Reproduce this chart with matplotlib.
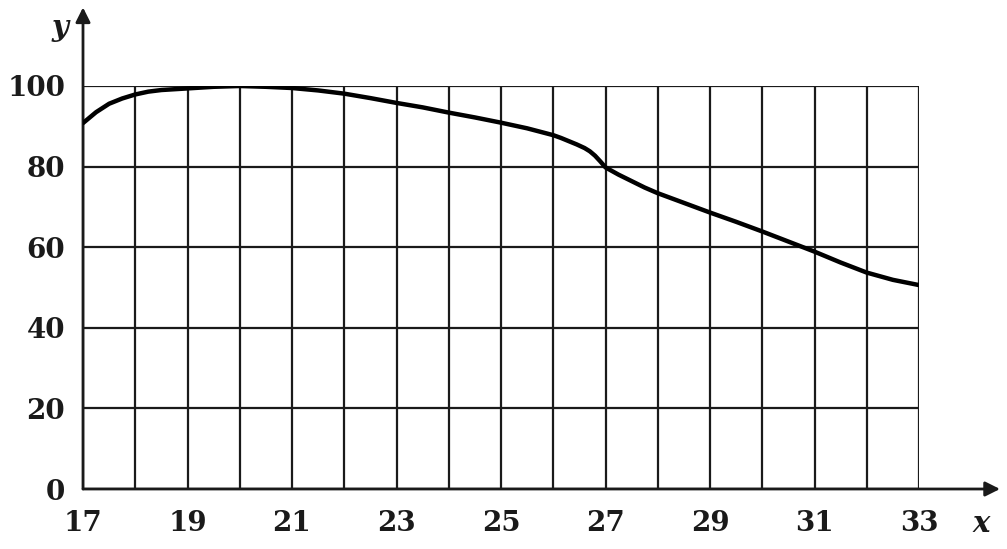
import matplotlib
matplotlib.use("Agg")
import matplotlib.pyplot as plt

# curve
x_vals = [17, 17.25, 17.5, 17.75, 18, 18.25, 18.5, 19, 19.5, 20, 20.5, 21, 21.5, 22, 22.5,
          23, 23.5, 24, 24.5, 25, 25.5, 26, 26.15, 26.3, 26.45, 26.6, 26.7, 26.8, 26.9,
          27, 27.25, 27.5, 27.75, 28, 28.5, 29, 29.5, 30, 30.5, 31, 31.5, 32, 32.5, 33]
y_vals = [90.8, 93.5, 95.6, 96.9, 97.9, 98.6, 99.0, 99.4, 99.8, 100, 99.8, 99.5, 98.9, 98.1, 97.0,
          95.8, 94.7, 93.4, 92.2, 90.9, 89.5, 87.8, 87.1, 86.3, 85.5, 84.6, 83.8, 82.7, 81.3,
          79.8, 78.0, 76.4, 74.8, 73.4, 71.0, 68.6, 66.3, 63.9, 61.4, 58.9, 56.2, 53.7, 51.9, 50.6]

x_ticks = list(range(17, 34))
x_labels = [str(v) if v % 2 == 1 else "" for v in x_ticks]
y_ticks = [0, 20, 40, 60, 80, 100]

INK = "#1a1a1a"
FONT = "DejaVu Serif"

fig = plt.figure(figsize=(10.07, 5.49), dpi=100)
ax = fig.add_axes([83 / 1007, 60 / 549, 836 / 1007, 403 / 549])

ax.set_xlim(17, 33)
ax.set_ylim(0, 100)
ax.set_xticks(x_ticks)
ax.set_xticklabels(x_labels)
ax.set_yticks(y_ticks)
ax.tick_params(length=0, labelsize=20, colors=INK)
ax.tick_params(axis="x", pad=15)
ax.tick_params(axis="y", pad=13)
for lab in ax.get_xticklabels() + ax.get_yticklabels():
    lab.set_fontfamily(FONT)
    lab.set_fontweight("bold")

for s in ax.spines.values():
    s.set_visible(False)

ax.grid(True, color=INK, lw=1.6)
ax.set_axisbelow(True)

ax.plot(x_vals, y_vals, color="black", lw=3.2, solid_capstyle="round",
        solid_joinstyle="round", zorder=5)

# axes with arrows
arrow = dict(arrowstyle="-|>", lw=2.0, color=INK, mutation_scale=22, shrinkA=0, shrinkB=0)
ax.annotate("", xy=(34.55, 0), xytext=(17, 0), arrowprops=arrow, annotation_clip=False)
ax.annotate("", xy=(17, 119.5), xytext=(17, 0), arrowprops=arrow, annotation_clip=False)

ax.text(34.2, -8.5, "x", fontsize=21, fontstyle="italic", fontweight="bold",
        family=FONT, ha="center", va="center", color=INK)
ax.text(16.55, 114.5, "y", fontsize=21, fontstyle="italic", fontweight="bold",
        family=FONT, ha="center", va="center", color=INK)

fig.savefig("out.png", dpi=100, facecolor="white")
